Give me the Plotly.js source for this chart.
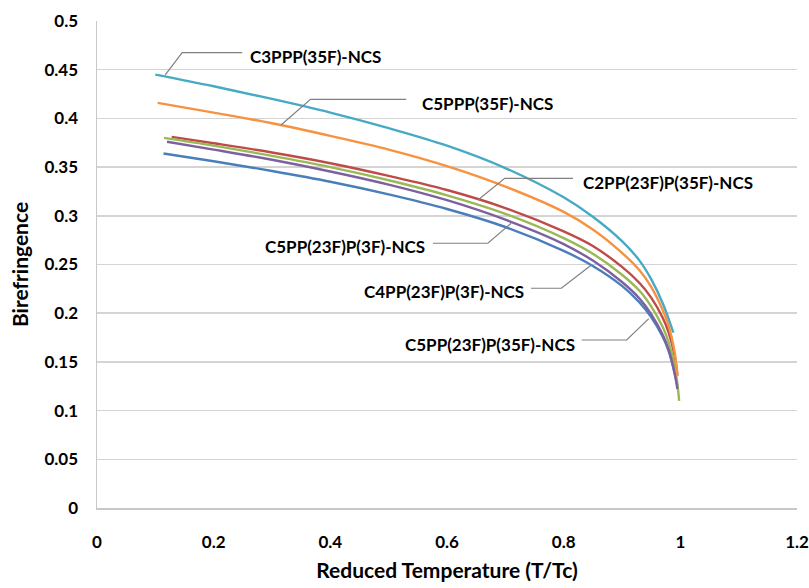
<!DOCTYPE html>
<html>
<head>
<meta charset="utf-8">
<script src="https://cdn.plot.ly/plotly-3.0.1.min.js"></script>
<style>html,body{margin:0;padding:0;background:#fff;}#chart{width:809px;height:588px;}</style>
</head>
<body>
<div id="chart"></div>
<script>
// Series names
const seriesNames = ["C5PP(23F)P(35F)-NCS", "C2PP(23F)P(35F)-NCS", "C5PP(23F)P(3F)-NCS", "C4PP(23F)P(3F)-NCS", "C3PPP(35F)-NCS", "C5PPP(35F)-NCS"];
const seriesColors = ["#4A7EBB", "#BE4B48", "#98B954", "#7D60A0", "#46AAC5", "#F69240"];

// Reduced temperature (T/Tc) and birefringence values
const xBlue   = [0.114, 0.2, 0.3, 0.4, 0.5, 0.6, 0.7, 0.8, 0.85, 0.9, 0.93, 0.95, 0.97, 0.98, 0.99, 0.995];
const yBlue   = [0.364, 0.356, 0.346, 0.335, 0.322, 0.307, 0.2885, 0.264, 0.2485, 0.228, 0.211, 0.196, 0.1755, 0.161, 0.139, 0.125];

const xRed    = [0.128, 0.2, 0.3, 0.4, 0.5, 0.6, 0.7, 0.8, 0.85, 0.9, 0.93, 0.95, 0.97, 0.98, 0.99, 0.995];
const yRed    = [0.381, 0.3745, 0.365, 0.354, 0.341, 0.3265, 0.308, 0.284, 0.269, 0.2475, 0.231, 0.216, 0.195, 0.180, 0.157, 0.136];

const xGreen  = [0.115, 0.2, 0.3, 0.4, 0.5, 0.6, 0.7, 0.8, 0.85, 0.9, 0.93, 0.95, 0.97, 0.98, 0.99, 0.995, 0.998];
const yGreen  = [0.380, 0.372, 0.3615, 0.350, 0.3365, 0.321, 0.302, 0.277, 0.261, 0.2395, 0.223, 0.207, 0.1855, 0.170, 0.147, 0.127, 0.110];

const xPurple = [0.12, 0.2, 0.3, 0.4, 0.5, 0.6, 0.7, 0.8, 0.85, 0.9, 0.93, 0.95, 0.97, 0.98, 0.99, 0.995];
const yPurple = [0.376, 0.368, 0.3575, 0.3455, 0.332, 0.316, 0.296, 0.271, 0.254, 0.232, 0.215, 0.199, 0.1775, 0.1625, 0.139, 0.122];

const xTeal   = [0.10, 0.2, 0.3, 0.4, 0.5, 0.6, 0.7, 0.8, 0.85, 0.9, 0.93, 0.95, 0.97, 0.988];
const yTeal   = [0.445, 0.433, 0.420, 0.406, 0.390, 0.372, 0.349, 0.319, 0.299, 0.274, 0.254, 0.235, 0.210, 0.180];

const xOrange = [0.104, 0.2, 0.3, 0.4, 0.5, 0.6, 0.7, 0.8, 0.85, 0.9, 0.93, 0.95, 0.97, 0.98, 0.99, 0.995];
const yOrange = [0.416, 0.406, 0.395, 0.382, 0.368, 0.351, 0.330, 0.304, 0.286, 0.262, 0.244, 0.227, 0.203, 0.187, 0.161, 0.136];

const xs = [xBlue, xRed, xGreen, xPurple, xTeal, xOrange];
const ys = [yBlue, yRed, yGreen, yPurple, yTeal, yOrange];

// X tick values and labels
const xTickVals = [0, 0.2, 0.4, 0.6, 0.8, 1, 1.2];
const xTickText = ["0", "0.2", "0.4", "0.6", "0.8", "1", "1.2"];

// Label placement (data coordinates): text anchor and leader polyline
const labelText   = ["C3PPP(35F)-NCS", "C5PPP(35F)-NCS", "C2PP(23F)P(35F)-NCS", "C5PP(23F)P(3F)-NCS", "C4PP(23F)P(3F)-NCS", "C5PP(23F)P(35F)-NCS"];
const labelX      = [0.258, 0.553, 0.830, 0.566, 0.735, 0.822];
const labelY      = [0.464, 0.415, 0.334, 0.268, 0.222, 0.168];
const labelAnchor = ["left", "left", "left", "right", "right", "right"];
const leaderX = [[0.249, 0.146, 0.117], [0.530, 0.366, 0.315], [0.816, 0.699, 0.653], [0.576, 0.670, 0.710], [0.744, 0.796, 0.848], [0.831, 0.908, 0.946]];
const leaderY = [[0.4675, 0.4675, 0.4446], [0.4196, 0.4196, 0.393], [0.3385, 0.3385, 0.3162], [0.2718, 0.2718, 0.2923], [0.2256, 0.2256, 0.2498], [0.1725, 0.1725, 0.1944]];

const FONT = "Lato, 'Open Sans', sans-serif";

const traces = xs.map((x, i) => ({
  x: x, y: ys[i], name: seriesNames[i], type: "scatter", mode: "lines",
  line: {color: seriesColors[i], width: 2.4, shape: "spline", smoothing: 1},
  hoverinfo: "skip"
}));

const shapes = leaderX.map((lx, i) => ({
  type: "path", xref: "x", yref: "y",
  path: "M " + lx.map((v, j) => v + "," + leaderY[i][j]).join(" L "),
  line: {color: "#808080", width: 1.2}
}));

const annotations = labelText.map((t, i) => ({
  x: labelX[i], y: labelY[i], xref: "x", yref: "y", text: "<b>" + t + "</b>",
  showarrow: false, xanchor: labelAnchor[i], yanchor: "middle",
  font: {family: FONT, size: 17, color: "#000"}
}));

const layout = {
  width: 809, height: 588,
  margin: {l: 97, r: 12, t: 21, b: 80},
  paper_bgcolor: "#fff", plot_bgcolor: "#fff",
  showlegend: false,
  font: {family: FONT, color: "#000"},
  xaxis: {
    range: [0, 1.2], tickmode: "array", tickvals: xTickVals, ticktext: xTickText,
    showgrid: false, zeroline: false,
    showline: true, linecolor: "#c8c8c8", linewidth: 1.5, ticks: "",
    ticklabelstandoff: 18, ticklabeloverflow: "allow",
    tickfont: {family: FONT, size: 17, color: "#000", weight: "bold"},
    title: {text: "<b>Reduced Temperature (T/Tc)</b>", font: {family: FONT, size: 21, color: "#000"}, standoff: 12}
  },
  yaxis: {
    range: [0, 0.5], dtick: 0.05, tick0: 0, showgrid: true, gridcolor: "#d4d4d4", gridwidth: 1.5,
    zeroline: false, showline: true, linecolor: "#c8c8c8", linewidth: 1.5, ticks: "",
    ticklabelstandoff: 14,
    tickfont: {family: FONT, size: 17, color: "#000", weight: "bold"},
    title: {text: "<b>Birefringence</b>", font: {family: FONT, size: 21, color: "#000"}, standoff: 10}
  },
  shapes: shapes,
  annotations: annotations
};

Plotly.newPlot("chart", traces, layout, {displayModeBar: false, staticPlot: true});
</script>
</body>
</html>
